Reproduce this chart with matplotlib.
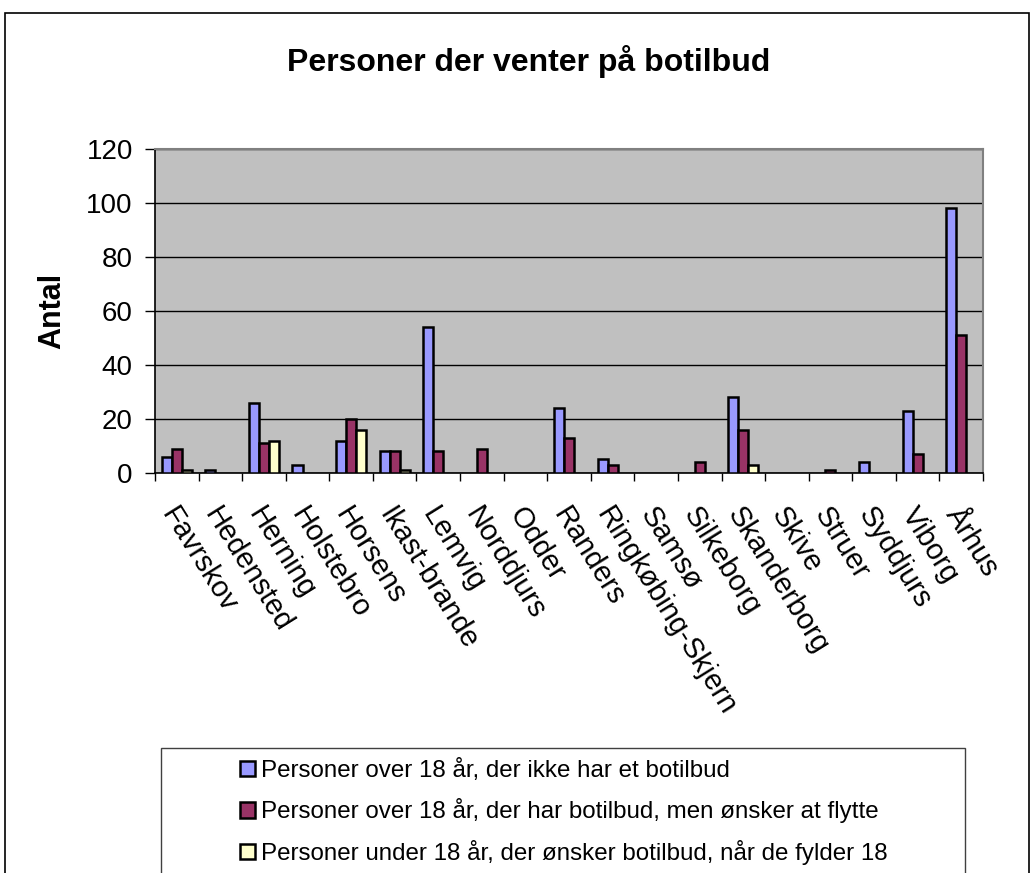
import numpy as np
import matplotlib.pyplot as plt
from matplotlib.patches import Rectangle, Patch
from matplotlib.transforms import offset_copy

plt.rcParams['font.family'] = ['Liberation Sans', 'DejaVu Sans']

kommuner = ['Favrskov', 'Hedensted', 'Herning', 'Holstebro', 'Horsens', 'Ikast-brande',
            'Lemvig', 'Norddjurs', 'Odder', 'Randers', 'Ringkøbing-Skjern', 'Samsø',
            'Silkeborg', 'Skanderborg', 'Skive', 'Struer', 'Syddjurs', 'Viborg', 'Århus']

over18_uden = [6, 1, 26, 3, 12, 8, 54, 0, 0, 24, 5, 0, 0, 28, 0, 0, 4, 23, 98]
over18_flytte = [9, 0, 11, 0, 20, 8, 8, 9, 0, 13, 3, 0, 4, 16, 0, 1, 0, 7, 51]
under18 = [1, 0, 12, 0, 16, 1, 0, 0, 0, 0, 0, 0, 0, 3, 0, 0, 0, 0, 0]

serier = [
    ('Personer over 18 år, der ikke har et botilbud', over18_uden, '#9999FF'),
    ('Personer over 18 år, der har botilbud, men ønsker at flytte', over18_flytte, '#993366'),
    ('Personer under 18 år, der ønsker botilbud, når de fylder 18', under18, '#FFFFCC'),
]

W, H = 1034, 873
fig = plt.figure(figsize=(W / 100, H / 100), dpi=100)

# outer chart frame (runs off the bottom like the original)
fig.patches.append(Rectangle((5 / W, -0.1), 1024 / W, 1.1 - 13 / H, transform=fig.transFigure,
                             fill=False, edgecolor='black', linewidth=1.2))

ax = fig.add_axes([155 / W, 1 - 473 / H, 828 / W, 324 / H])
ax.set_facecolor('#C0C0C0')

x = np.arange(len(kommuner))
bw = 0.23
for i, (navn, vals, farve) in enumerate(serier):
    lw = [1.8 if v > 0 else 0 for v in vals]
    ax.bar(x + (i - 1) * bw, vals, width=bw, color=farve, edgecolor='black',
           linewidth=lw, zorder=3)

ax.set_xlim(-0.5, len(kommuner) - 0.5)
ax.set_ylim(0, 120)
ax.set_yticks(range(0, 121, 20))
ax.yaxis.grid(True, color='black', linewidth=1.0, zorder=1)
ax.tick_params(axis='y', direction='out', length=7, width=1, pad=9, labelsize=20)

ax.set_xticks(x)
ax.set_xticklabels([])
ax.tick_params(axis='x', which='major', length=0)
ax.set_xticks(np.arange(-0.5, len(kommuner), 1), minor=True)
ax.tick_params(axis='x', which='minor', direction='out', length=6, width=1)

for s in ['top', 'right']:
    ax.spines[s].set_color('#808080')
    ax.spines[s].set_linewidth(1.5)
for s in ['left', 'bottom']:
    ax.spines[s].set_color('black')
    ax.spines[s].set_linewidth(1.2)

trans = offset_copy(ax.get_xaxis_transform(), fig=fig, x=2, y=-29, units='dots')
for xi, navn in zip(x, kommuner):
    ax.text(xi, 0, navn, transform=trans, rotation=-58, rotation_mode='anchor',
            ha='left', va='top', fontsize=21)

ax.set_ylabel('Antal', fontsize=22, fontweight='bold')
ax.yaxis.set_label_coords(-88 / 828, 0.5)

fig.text(529 / W, 1 - 62 / H, 'Personer der venter på botilbud', ha='center', va='center',
         fontsize=23, fontweight='bold')

# legend box, cut off at the bottom
fig.patches.append(Rectangle((161 / W, -0.1), 804 / W, 0.1 + 1 - 748 / H,
                             transform=fig.transFigure, fill=False,
                             edgecolor='#404040', linewidth=1.0))
handles = [Patch(facecolor=f, edgecolor='black', linewidth=1.8) for _, _, f in serier]
fig.legend(handles, [s[0] for s in serier], loc='upper left',
           bbox_to_anchor=(240 / W, 1 - 759 / H), frameon=False, fontsize=17.4,
           handlelength=0.62, handleheight=0.62, handletextpad=0.25, labelspacing=0.68,
           borderaxespad=0, borderpad=0)

fig.savefig('out.png', dpi=100)
